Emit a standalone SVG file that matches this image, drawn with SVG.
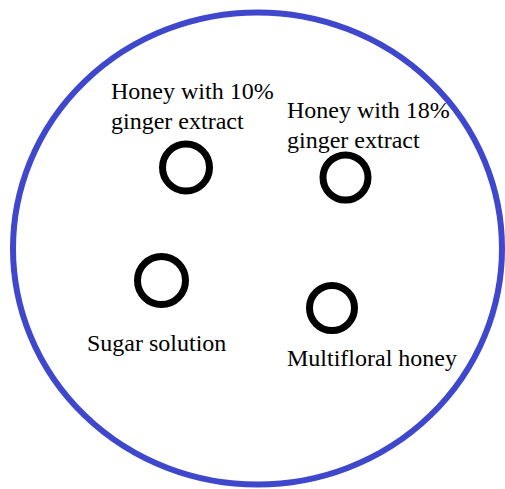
<svg xmlns="http://www.w3.org/2000/svg" width="505" height="489" viewBox="0 0 505 489">
<style>
.plate{fill:none;stroke:#3f48cc;stroke-width:6}
.well{fill:none;stroke:#000;stroke-width:7}
</style>
<rect width="505" height="489" fill="#fff"/>
<g id="plate"><ellipse class="plate" cx="257.5" cy="248.5" rx="244.5" ry="236"/></g>
<g id="well-10">
<circle class="well" cx="186" cy="167.5" r="23.5"/>
<text x="111" y="99" font-size="24" font-family="Liberation Serif, serif">Honey with 10%</text>
<text x="111" y="129" font-size="24" font-family="Liberation Serif, serif">ginger extract</text>
</g>
<g id="well-18">
<circle class="well" cx="345.5" cy="177.5" r="22.5"/>
<text x="287" y="118" font-size="24" font-family="Liberation Serif, serif">Honey with 18%</text>
<text x="287" y="148" font-size="24" font-family="Liberation Serif, serif">ginger extract</text>
</g>
<g id="well-sugar">
<circle class="well" cx="161.5" cy="280.5" r="24"/>
<text x="87" y="351" font-size="24" font-family="Liberation Serif, serif">Sugar solution</text>
</g>
<g id="well-multi">
<circle class="well" cx="332" cy="308" r="22.5"/>
<text x="287" y="366" font-size="24" font-family="Liberation Serif, serif">Multifloral honey</text>
</g>
<g id="connectors"></g>
</svg>
